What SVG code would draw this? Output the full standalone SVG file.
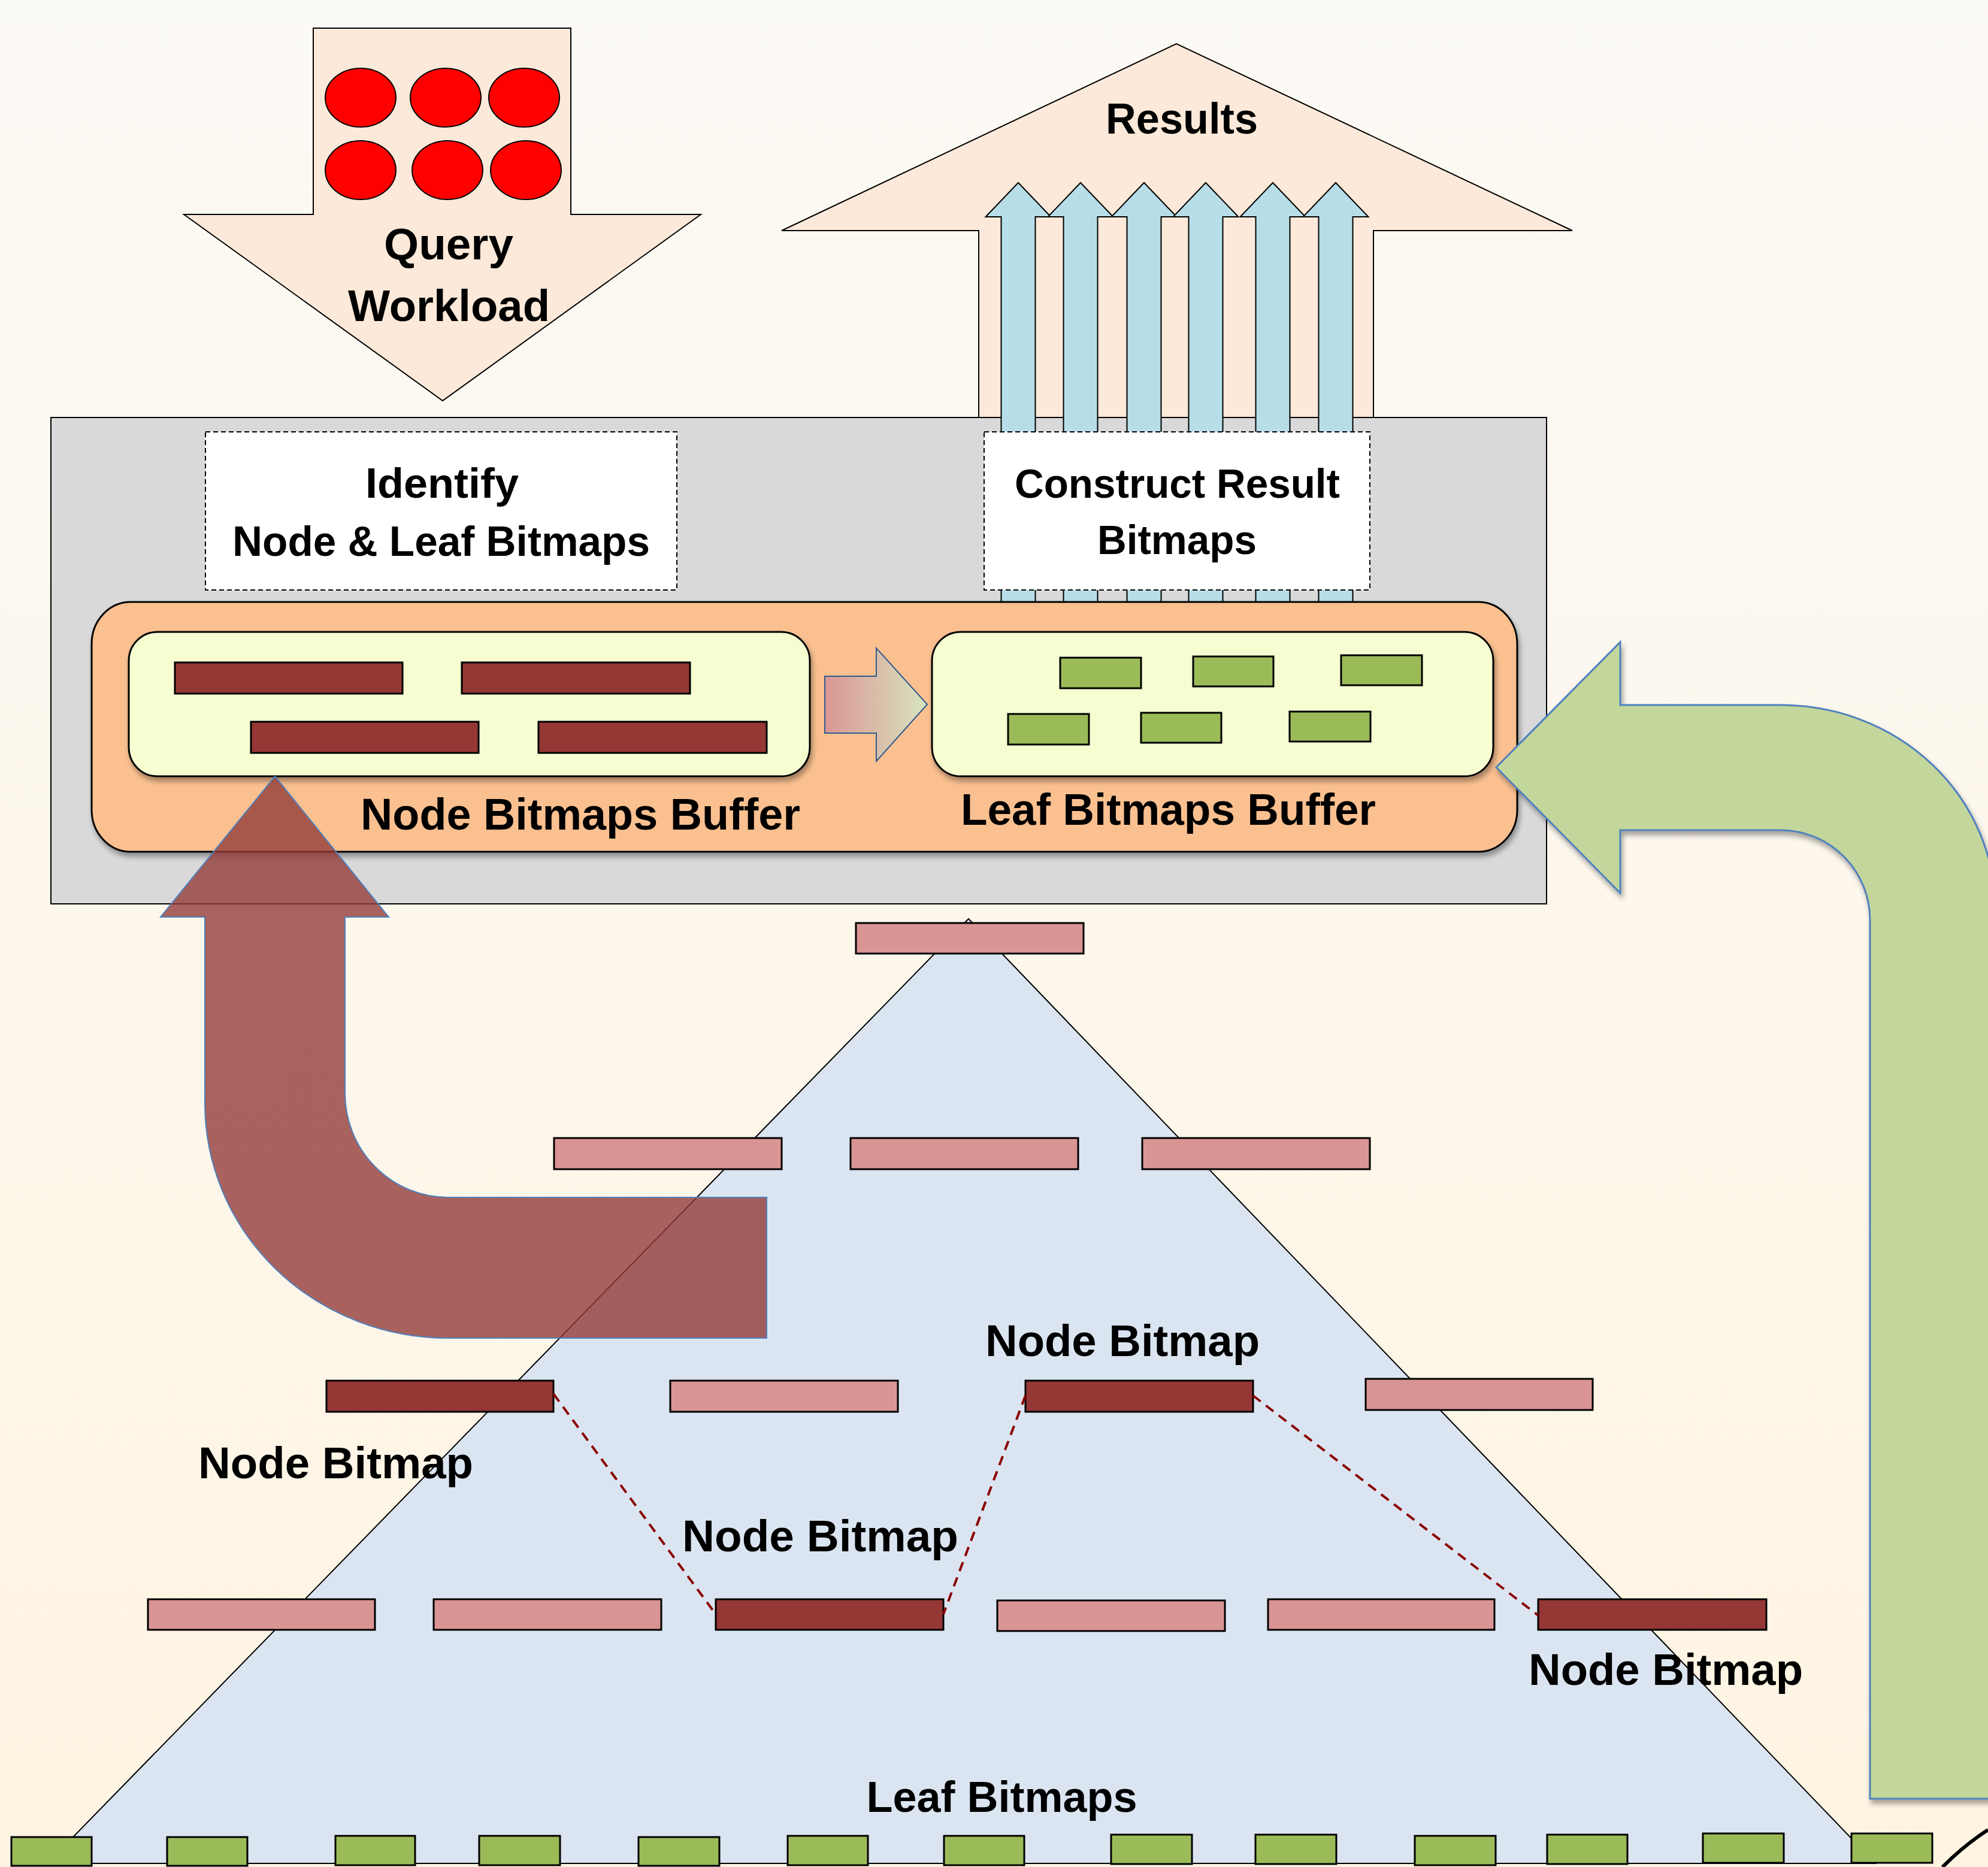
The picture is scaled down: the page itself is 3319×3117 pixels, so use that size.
<svg xmlns="http://www.w3.org/2000/svg" width="3319" height="3117" viewBox="0 0 3319 3117">
<defs>
<linearGradient id="bg" x1="0" y1="0" x2="0" y2="1">
<stop offset="0" stop-color="#fcfaf5"/>
<stop offset="0.5" stop-color="#fdf7ec"/>
<stop offset="1" stop-color="#fff4e2"/>
</linearGradient>
<linearGradient id="gArrow" x1="0" y1="0" x2="1" y2="0">
<stop offset="0" stop-color="#da9694"/>
<stop offset="1" stop-color="#d7e4bd"/>
</linearGradient>
<filter id="shadow" x="-5%" y="-5%" width="110%" height="120%">
<feDropShadow dx="3" dy="7" stdDeviation="4" flood-color="#000" flood-opacity="0.35"/>
</filter>
<path id="blueArrow" d="M-28.5,1005 V362 H-54.5 L0,305 L54.5,362 H28.5 V1005 Z"/>
<style>
.lbl{font-family:"Liberation Sans",Arial,sans-serif;font-weight:bold;fill:#000;text-anchor:middle}
.peach{fill:#fde9d9;stroke:#000;stroke-width:2}
.blue{fill:#b7dee8;stroke:#000;stroke-width:2}
.dash{fill:#fff;stroke:#000;stroke-width:2;stroke-dasharray:8 5}
.dark{fill:#953735;stroke:#000;stroke-width:3}
.pink{fill:#d99594;stroke:#000;stroke-width:3}
.leaf{fill:#9bbb59;stroke:#000;stroke-width:3}
.inner{fill:#f5fdd1;stroke:#000;stroke-width:3}
.conn{fill:none;stroke:#8b0000;stroke-width:4;stroke-dasharray:16 11}
</style>
</defs>

<rect x="0" y="0" width="3319" height="3117" fill="url(#bg)"/>

<g id="query-workload">
<path class="peach" d="M523,47 H953 V358 H1170 L739,669 L307,358 H523 Z"/>
<g fill="#ff0000" stroke="#000" stroke-width="2">
<ellipse cx="602" cy="163" rx="59" ry="49"/>
<ellipse cx="744" cy="163" rx="59" ry="49"/>
<ellipse cx="875" cy="163" rx="59" ry="49"/>
<ellipse cx="602" cy="284" rx="59" ry="49"/>
<ellipse cx="747" cy="284" rx="59" ry="49"/>
<ellipse cx="878" cy="284" rx="59" ry="49"/>
</g>
<text class="lbl" x="749" y="433" font-size="75" textLength="216" lengthAdjust="spacingAndGlyphs">Query</text>
<text class="lbl" x="749.5" y="536" font-size="75" textLength="337" lengthAdjust="spacingAndGlyphs">Workload</text>
</g>

<g id="results">
<path class="peach" d="M1634,700 V385 H1305 L1964,73 L2625,385 H2293 V700 Z"/>
<text class="lbl" x="1973" y="223" font-size="72" textLength="254" lengthAdjust="spacingAndGlyphs">Results</text>
</g>

<g id="processor">
<rect x="85" y="697" width="2497" height="812" fill="#d9d9d9" stroke="#000" stroke-width="2"/>
</g>

<g id="result-arrows" class="blue">
<use href="#blueArrow" x="1700"/>
<use href="#blueArrow" x="1804"/>
<use href="#blueArrow" x="1910"/>
<use href="#blueArrow" x="2013"/>
<use href="#blueArrow" x="2125"/>
<use href="#blueArrow" x="2230"/>
</g>

<g id="identify">
<rect class="dash" x="343" y="721" width="787" height="264"/>
<text class="lbl" x="738" y="831" font-size="70" textLength="256" lengthAdjust="spacingAndGlyphs">Identify</text>
<text class="lbl" x="736.5" y="928" font-size="70" textLength="697" lengthAdjust="spacingAndGlyphs">Node &amp; Leaf Bitmaps</text>
</g>

<g id="construct">
<rect class="dash" x="1643" y="721" width="644" height="264"/>
<text class="lbl" x="1965.5" y="831" font-size="68" textLength="543" lengthAdjust="spacingAndGlyphs">Construct Result</text>
<text class="lbl" x="1965" y="925" font-size="68" textLength="266" lengthAdjust="spacingAndGlyphs">Bitmaps</text>
</g>

<g id="buffers">
<rect x="153" y="1005" width="2380" height="417" rx="65" ry="70" fill="#fac090" stroke="#000" stroke-width="3" filter="url(#shadow)"/>
</g>

<g id="node-bitmaps-buffer">
<rect class="inner" x="215" y="1055" width="1137" height="241" rx="48" ry="48" filter="url(#shadow)"/>
<rect class="dark" x="292" y="1106" width="380" height="52"/>
<rect class="dark" x="771" y="1106" width="381" height="52"/>
<rect class="dark" x="419" y="1205" width="380" height="52"/>
<rect class="dark" x="899" y="1205" width="381" height="52"/>
<text class="lbl" x="969" y="1385" font-size="74" textLength="734" lengthAdjust="spacingAndGlyphs">Node Bitmaps Buffer</text>
</g>

<g id="transfer-arrow">
<path d="M1377,1129 H1463 V1082 L1548,1176 L1463,1271 V1224 H1377 Z" fill="url(#gArrow)" stroke="#2f5a8f" stroke-width="2"/>
</g>

<g id="leaf-bitmaps-buffer">
<rect class="inner" x="1556" y="1055" width="937" height="241" rx="48" ry="48" filter="url(#shadow)"/>
<rect class="leaf" x="1770" y="1098" width="135" height="51"/>
<rect class="leaf" x="1992" y="1096" width="134" height="50"/>
<rect class="leaf" x="2239" y="1094" width="135" height="50"/>
<rect class="leaf" x="1683" y="1192" width="135" height="51"/>
<rect class="leaf" x="1905" y="1190" width="134" height="50"/>
<rect class="leaf" x="2153" y="1188" width="135" height="50"/>
<text class="lbl" x="1950.5" y="1377" font-size="74" textLength="693" lengthAdjust="spacingAndGlyphs">Leaf Bitmaps Buffer</text>
</g>

<g id="tree">
<path d="M1617,1534 L3131,3111 L79,3111 Z" fill="#dbe5f1" stroke="#000" stroke-width="2"/>
</g>

<g id="level1">
<rect class="pink" x="1429" y="1541" width="380" height="51"/>
</g>
<g id="level2">
<rect class="pink" x="925" y="1900" width="380" height="52"/>
<rect class="pink" x="1420" y="1900" width="380" height="52"/>
<rect class="pink" x="1907" y="1900" width="380" height="52"/>
</g>
<g id="level3">
<rect class="dark" x="545" y="2305" width="379" height="52"/>
<rect class="pink" x="1119" y="2305" width="380" height="52"/>
<rect class="dark" x="1712" y="2305" width="380" height="52"/>
<rect class="pink" x="2280" y="2302" width="379" height="52"/>
</g>
<g id="level4">
<rect class="pink" x="247" y="2670" width="379" height="51"/>
<rect class="pink" x="724" y="2670" width="380" height="51"/>
<rect class="dark" x="1195" y="2670" width="380" height="51"/>
<rect class="pink" x="1665" y="2672" width="380" height="51"/>
<rect class="pink" x="2117" y="2670" width="378" height="51"/>
<rect class="dark" x="2568" y="2670" width="381" height="51"/>
</g>
<g id="leaf-bitmaps">
<rect class="leaf" x="19" y="3067" width="134" height="48"/>
<rect class="leaf" x="279" y="3067" width="134" height="48"/>
<rect class="leaf" x="560" y="3065" width="133" height="49"/>
<rect class="leaf" x="800" y="3065" width="135" height="49"/>
<rect class="leaf" x="1066" y="3067" width="135" height="48"/>
<rect class="leaf" x="1315" y="3065" width="134" height="49"/>
<rect class="leaf" x="1576" y="3065" width="134" height="49"/>
<rect class="leaf" x="1855" y="3063" width="135" height="49"/>
<rect class="leaf" x="2096" y="3063" width="135" height="49"/>
<rect class="leaf" x="2362" y="3065" width="135" height="49"/>
<rect class="leaf" x="2583" y="3063" width="134" height="49"/>
<rect class="leaf" x="2843" y="3061" width="135" height="49"/>
<rect class="leaf" x="3091" y="3061" width="135" height="49"/>
</g>

<g id="connectors">
<path class="conn" d="M924,2327 L1195,2695"/>
<path class="conn" d="M1712,2330 L1575,2695"/>
<path class="conn" d="M2092,2330 L2568,2697"/>
</g>

<g id="labels">
<text class="lbl" x="1874" y="2264" font-size="74" textLength="458" lengthAdjust="spacingAndGlyphs">Node Bitmap</text>
<text class="lbl" x="560.5" y="2468" font-size="74" textLength="459" lengthAdjust="spacingAndGlyphs">Node Bitmap</text>
<text class="lbl" x="1369.5" y="2590" font-size="74" textLength="461" lengthAdjust="spacingAndGlyphs">Node Bitmap</text>
<text class="lbl" x="2781" y="2813" font-size="74" textLength="458" lengthAdjust="spacingAndGlyphs">Node Bitmap</text>
<text class="lbl" x="1672.5" y="3025" font-size="72" textLength="452" lengthAdjust="spacingAndGlyphs">Leaf Bitmaps</text>
</g>

<g id="node-load-arrow">
<path d="M459,1296 L649,1531 H576 V1825 A172,174 0 0 0 748,1999 H1280 V2234 H748 A406,392 0 0 1 342,1842 V1531 H268 Z" fill="#943c3a" fill-opacity="0.8" stroke="#4f81bd" stroke-width="2"/>
</g>

<g id="leaf-load-arrow">
<path d="M2498,1281 L2705,1072 V1177 H2973 A358,340 0 0 1 3331,1517 V3003 H3122 V1536 A149,150 0 0 0 2973,1386 H2705 V1491 Z" fill="#c3d69b" stroke="#4f81bd" stroke-width="3" filter="url(#shadow)"/>
</g>

<path d="M3243,3117 Q3280,3080 3319,3055" fill="none" stroke="#000" stroke-width="6"/>
</svg>
